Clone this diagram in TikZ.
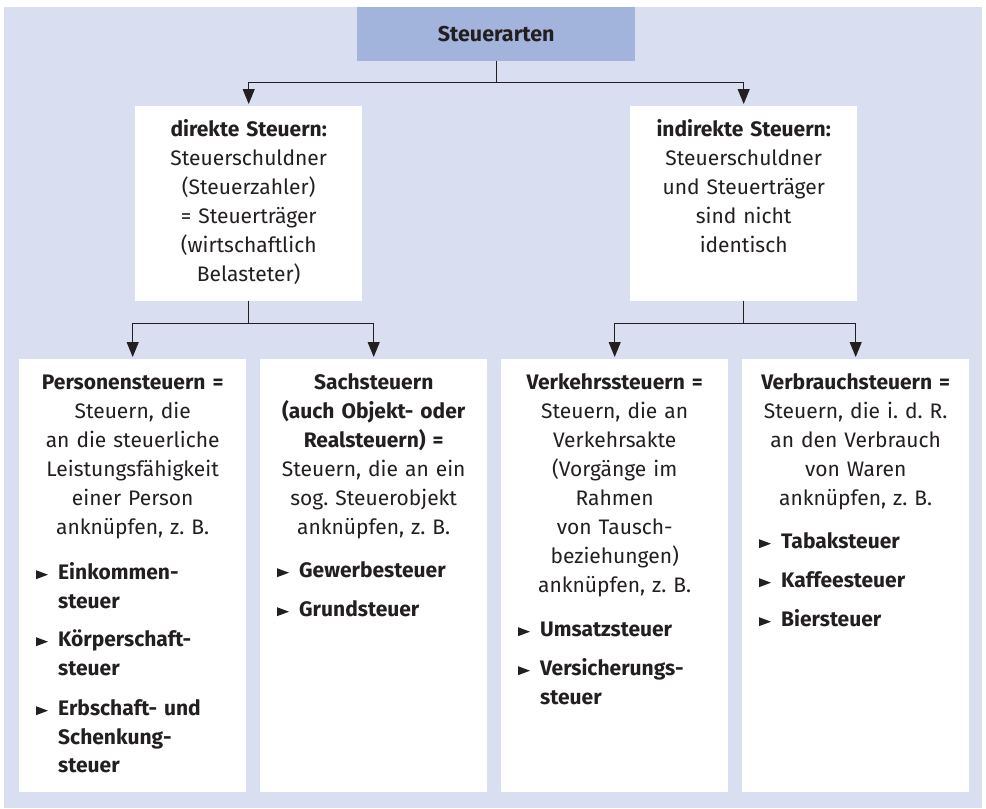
\documentclass[tikz,border=0pt]{standalone}
\usepackage{fontspec}
\setmainfont{Fira Sans}
\usetikzlibrary{arrows.meta}
\definecolor{bgc}{RGB}{217,222,240}
\definecolor{topc}{RGB}{163,180,220}
\definecolor{ink}{RGB}{35,31,32}
\frenchspacing
\newcommand\bulat[1]{\fill[ink] ([xshift=-22pt,yshift=-10.5pt]#1.north west) -- ++(12pt,-4.5pt) -- ++(-12pt,-4.5pt) -- cycle;}
\begin{document}
\begin{tikzpicture}[x=1pt,y=-1pt,
  every node/.style={inner sep=0pt, text=ink},
  box/.style={fill=white, anchor=north west, minimum width=227pt, minimum height=#1},
  hdr/.style={font=\fontsize{21}{29}\selectfont, text width=227pt, align=center, anchor=north},
  item/.style={font=\fontsize{21}{28.5}\selectfont\bfseries, text width=185pt, align=left, anchor=north west},
  conn/.style={draw=ink, line width=1pt},
  arr/.style={conn, -{Triangle[width=12pt,length=15pt]}, shorten >=2pt}]
\useasboundingbox (0,0) rectangle (986,809);
\fill[bgc] (4,7) rectangle (982,808);
% boxes
\node[fill=topc, anchor=north west, minimum width=278pt, minimum height=54pt,
      font=\fontsize{21.5}{29}\selectfont\bfseries] (top) at (357,7) {Steuerarten};
\node[box=195pt] (direct) at (135,106) {};
\node[box=195pt] (indirect) at (630,106) {};
\node[box=433pt] (pers) at (19,359) {};
\node[box=433pt] (sach) at (260,359) {};
\node[box=433pt] (verk) at (501,359) {};
\node[box=433pt] (verb) at (742,359) {};
% connectors
\path (top.south) ++(0,21) coordinate (tj);
\draw[conn] (top.south) -- (tj);
\draw[arr] (tj) -| (direct.north);
\draw[arr] (tj) -| (indirect.north);
\path (direct.south) ++(0,22) coordinate (dj);
\draw[conn] (direct.south) -- (dj);
\draw[arr] (dj) -| (pers.north);
\draw[arr] (dj) -| (sach.north);
\path (indirect.south) ++(0,22) coordinate (ij);
\draw[conn] (indirect.south) -- (ij);
\draw[arr] (ij) -| (verk.north);
\draw[arr] (ij) -| (verb.north);
% header texts
\node[hdr] (directT) at ([yshift=-9.7pt]direct.north) {\strut\textbf{direkte Steuern:}\\Steuerschuldner\\(Steuerzahler)\\= Steuerträger\\(wirtschaftlich\\Belasteter)};
\node[hdr] (indirectT) at ([yshift=-9.7pt]indirect.north) {\strut\textbf{indirekte Steuern:}\\Steuerschuldner\\und Steuerträger\\sind nicht\\identisch};
\node[hdr] (persT) at ([yshift=-9.7pt]pers.north) {\strut\textbf{Personensteuern =}\\Steuern, die\\an die steuerliche\\Leistungsfähigkeit\\einer Person\\anknüpfen, z.~B.};
\node[hdr] (sachT) at ([yshift=-9.7pt]sach.north) {\strut{\bfseries Sachsteuern\\(auch Objekt- oder\\Realsteuern) =}\\Steuern, die an ein\\sog. Steuerobjekt\\anknüpfen, z.~B.};
\node[hdr] (verkT) at ([yshift=-9.7pt]verk.north) {\strut\textbf{Verkehrssteuern =}\\Steuern, die an\\Verkehrsakte\\(Vorgänge im\\Rahmen\\von Tausch-\\beziehungen)\\anknüpfen, z.~B.};
\node[hdr] (verbT) at ([yshift=-9.7pt]verb.north) {\strut\textbf{Verbrauchsteuern =}\\Steuern, die i.~d.~R.\\an den Verbrauch\\von Waren\\anknüpfen, z.~B.};
% list items
\node[item] (p1) at ([xshift=39pt,yshift=-200.7pt]pers.north west) {\strut Einkommen-\\steuer};
\node[item] (p2) at ([xshift=39pt,yshift=-267.7pt]pers.north west) {\strut Körperschaft-\\steuer};
\node[item] (p3) at ([xshift=39pt,yshift=-336.7pt]pers.north west) {\strut Erbschaft- und\\Schenkung-\\steuer};
\node[item] (s1) at ([xshift=39pt,yshift=-198.7pt]sach.north west) {\strut Gewerbesteuer};
\node[item] (s2) at ([xshift=39pt,yshift=-237.7pt]sach.north west) {\strut Grundsteuer};
\node[item] (k1) at ([xshift=39pt,yshift=-257.7pt]verk.north west) {\strut Umsatzsteuer};
\node[item] (k2) at ([xshift=39pt,yshift=-296.7pt]verk.north west) {\strut Versicherungs-\\steuer};
\node[item] (b1) at ([xshift=39pt,yshift=-169.7pt]verb.north west) {\strut Tabaksteuer};
\node[item] (b2) at ([xshift=39pt,yshift=-208.7pt]verb.north west) {\strut Kaffeesteuer};
\node[item] (b3) at ([xshift=39pt,yshift=-247.7pt]verb.north west) {\strut Biersteuer};
\bulat{p1}\bulat{p2}\bulat{p3}\bulat{s1}\bulat{s2}\bulat{k1}\bulat{k2}\bulat{b1}\bulat{b2}\bulat{b3}
\end{tikzpicture}
\end{document}
